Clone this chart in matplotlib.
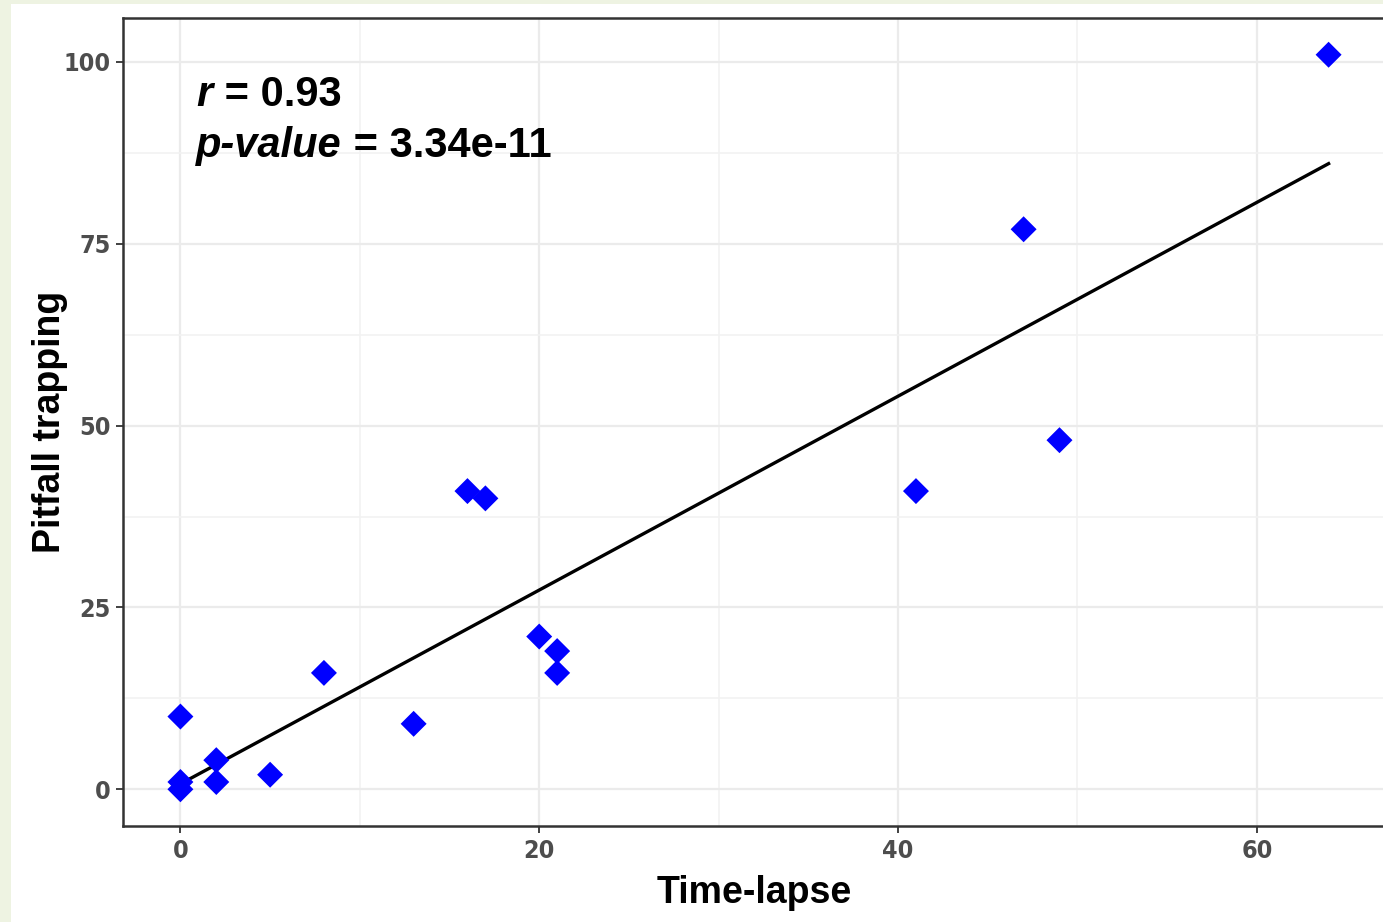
import numpy as np
import matplotlib.pyplot as plt
from matplotlib.ticker import MultipleLocator
from matplotlib.patches import Rectangle

# Time-lapse vs pitfall trapping counts
time_lapse = [0, 0, 0, 2, 2, 5, 8, 13, 16, 17, 20, 21, 21, 41, 47, 49, 64]
pitfall = [0, 1, 10, 4, 1, 2, 16, 9, 41, 40, 21, 19, 16, 41, 77, 48, 101]
x_ticks = [0, 20, 40, 60]
y_ticks = [0, 25, 50, 75, 100]

x = np.array(time_lapse)
y = np.array(pitfall)
slope, intercept = np.polyfit(x, y, 1)

fig = plt.figure(figsize=(13.83, 9.22), dpi=100, facecolor='#eef3e2')
fig.patches.append(Rectangle((11 / 1383, 0), 1, (922 - 4) / 922,
                             transform=fig.transFigure, facecolor='white',
                             edgecolor='none', zorder=-10))

ax = fig.add_axes([123 / 1383, 96 / 922, 1263 / 1383, 808 / 922])
ax.set_facecolor('white')

ax.set_xlim(-3.2, 67.2)
ax.set_ylim(-5.05, 106.05)
ax.set_xticks(x_ticks)
ax.set_yticks(y_ticks)
ax.xaxis.set_minor_locator(MultipleLocator(10))
ax.yaxis.set_minor_locator(MultipleLocator(12.5))
ax.grid(which='major', color='#ebebeb', linewidth=1.6, zorder=0)
ax.grid(which='minor', color='#f2f2f2', linewidth=1.2, zorder=0)
ax.set_axisbelow(True)
ax.tick_params(which='minor', length=0)
ax.tick_params(which='major', length=5, width=1.3, color='#333333',
               labelcolor='#4d4d4d', labelsize=18, pad=4)
for lab in ax.get_xticklabels() + ax.get_yticklabels():
    lab.set_family('DejaVu Sans')
    lab.set_fontstretch('condensed')
    lab.set_fontweight('bold')
for s in ax.spines.values():
    s.set_color('#333333')
    s.set_linewidth(1.8)

xs = np.array([x.min(), x.max()])
ax.plot(xs, intercept + slope * xs, color='black', linewidth=2.4, zorder=3)
ax.scatter(x, y, marker='D', s=175, color='#0000ff', edgecolors='none', zorder=4)

ax.set_xlabel('Time-lapse', fontsize=27, fontweight='bold',
              family='Liberation Sans', labelpad=9)
ax.set_ylabel('Pitfall trapping', fontsize=27, fontweight='bold',
              family='Liberation Sans', labelpad=-3)

# annotation: italic bold name followed by upright bold value
txt = dict(fontsize=30, fontweight='bold', family='Liberation Sans')
r_lab = ax.text(0.058, 0.880, 'r', transform=ax.transAxes, style='italic',
                va='bottom', **txt)
ax.annotate(' = 0.93', xy=(1, 0), xycoords=r_lab, va='bottom', **txt)
p_lab = ax.text(0.058, 0.817, 'p-value', transform=ax.transAxes, style='italic',
                va='bottom', **txt)
ax.annotate(' = 3.34e-11', xy=(1, 0), xycoords=p_lab, va='bottom', **txt)

fig.savefig('out.png', dpi=100, facecolor=fig.get_facecolor())
